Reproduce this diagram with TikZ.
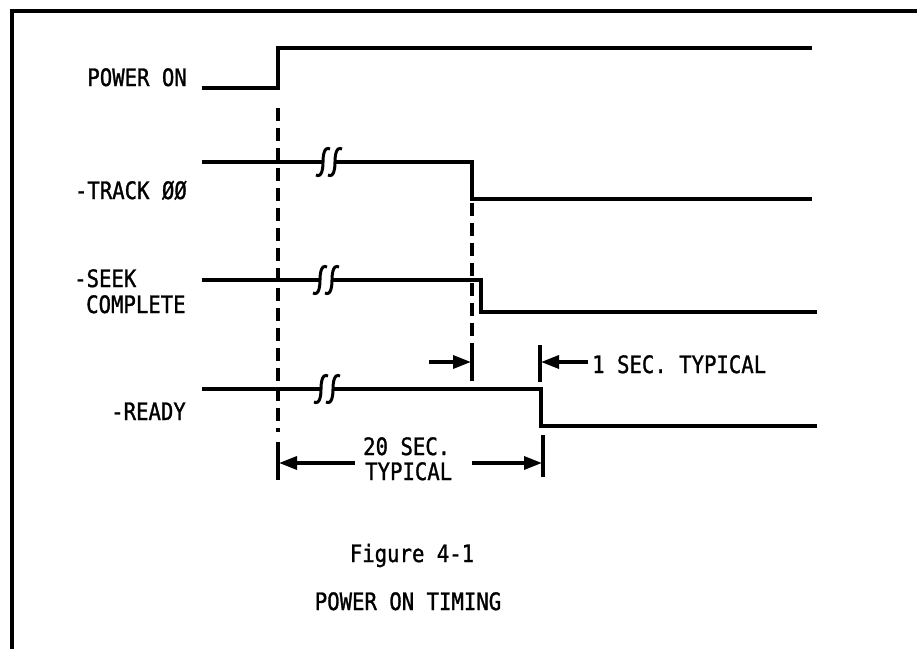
\documentclass[tikz,border=0pt]{standalone}
\usepackage{fontspec}
\newfontfamily\dfont[FakeStretch=0.86,FakeBold=1.2]{DejaVu Sans Mono}
\usetikzlibrary{arrows.meta}
\newcommand\squigmark[2]{\draw[brk] ({#1+7},{#2-13}) .. controls ({#1+1},{#2-16}) and ({#1},{#2-6}) .. ({#1},{#2}) .. controls ({#1},{#2+6}) and ({#1-1},{#2+16}) .. ({#1-7},{#2+13});}
\begin{document}
\begin{tikzpicture}[x=1pt,y=-1pt,
  sig/.style={line width=3.4pt, line join=miter},
  dsh/.style={line width=3.4pt, dash pattern=on 13pt off 7pt},
  lbl/.style={inner sep=0pt, font=\dfont\fontsize{24}{26}\selectfont},
  dim/.style={line width=3.4pt, -{Triangle[length=18pt,width=13pt]}},
  brk/.style={line width=3pt},
  tick/.style={line width=3.4pt}]
\useasboundingbox (0,0) rectangle (917,649);
% frame
\draw[line width=3.6pt] (917,11) -- (12,11) -- (12,649);
% key coordinates
\coordinate (pwrise) at (278,48);
\coordinate (trfall) at (472,199);
\coordinate (skfall) at (481,312);
\coordinate (rdfall) at (541,389);
% labels
\node[lbl, anchor=base east] (lpow) at (187,86) {POWER ON};
\node[lbl, anchor=base east] (ltrk) at (187,199) {-TRACK ØØ};
\node[lbl, anchor=base west] (lsk1) at (74,287) {-SEEK};
\node[lbl, anchor=base west] (lsk2) at (86,313) {COMPLETE};
\node[lbl, anchor=base east] (lrdy) at (186,420) {-READY};
% power on
\draw[sig] (202,88) -- (278,88) -- (pwrise) -- (812,48);
% track 00
\draw[sig] (202,162) -- (323,162);
\draw[sig] (335,162) -- (472,162) -- (trfall) -- (812,199);
\squigmark{323}{162}\squigmark{335}{162}
% seek complete
\draw[sig] (202,280) -- (320,280);
\draw[sig] (332,280) -- (481,280) -- (481,312) -- (817,312);
\squigmark{320}{280}\squigmark{332}{280}
% ready
\draw[sig] (202,389) -- (321,389);
\draw[sig] (333,389) -- (rdfall) -- (541,426) -- (817,426);
\squigmark{321}{389}\squigmark{333}{389}
% dashed guides
\draw[dsh] (278,108) -- (278,432);
\draw[dsh] (472,203) -- (472,345);
% 1 sec ticks and arrows
\draw[tick] (472,345) -- (472,381);
\draw[tick] (540,345) -- (540,382);
\coordinate (a1s) at (429,362);
\coordinate (a1e) at (471,362);
\draw[dim] (a1s) -- (a1e);
\coordinate (b1s) at (588,362);
\coordinate (b1e) at (541,362);
\draw[dim] (b1s) -- (b1e);
\node[lbl, anchor=base west] (l1s) at (592,373) {1 SEC. TYPICAL};
% 20 sec
\draw[tick] (278,442) -- (278,480);
\draw[tick] (543,435) -- (543,477);
\coordinate (c1s) at (355,463);
\coordinate (c1e) at (279,463);
\draw[dim] (c1s) -- (c1e);
\coordinate (d1s) at (472,463);
\coordinate (d1e) at (542,463);
\draw[dim] (d1s) -- (d1e);
\node[lbl, anchor=base west] (l20a) at (363,455) {20 SEC.};
\node[lbl, anchor=base west] (l20b) at (365,480) {TYPICAL};
% caption
\node[lbl, anchor=base] (fig) at (412,562) {Figure 4-1};
\node[lbl, anchor=base] (cap) at (408,610) {POWER ON TIMING};
\end{tikzpicture}
\end{document}
